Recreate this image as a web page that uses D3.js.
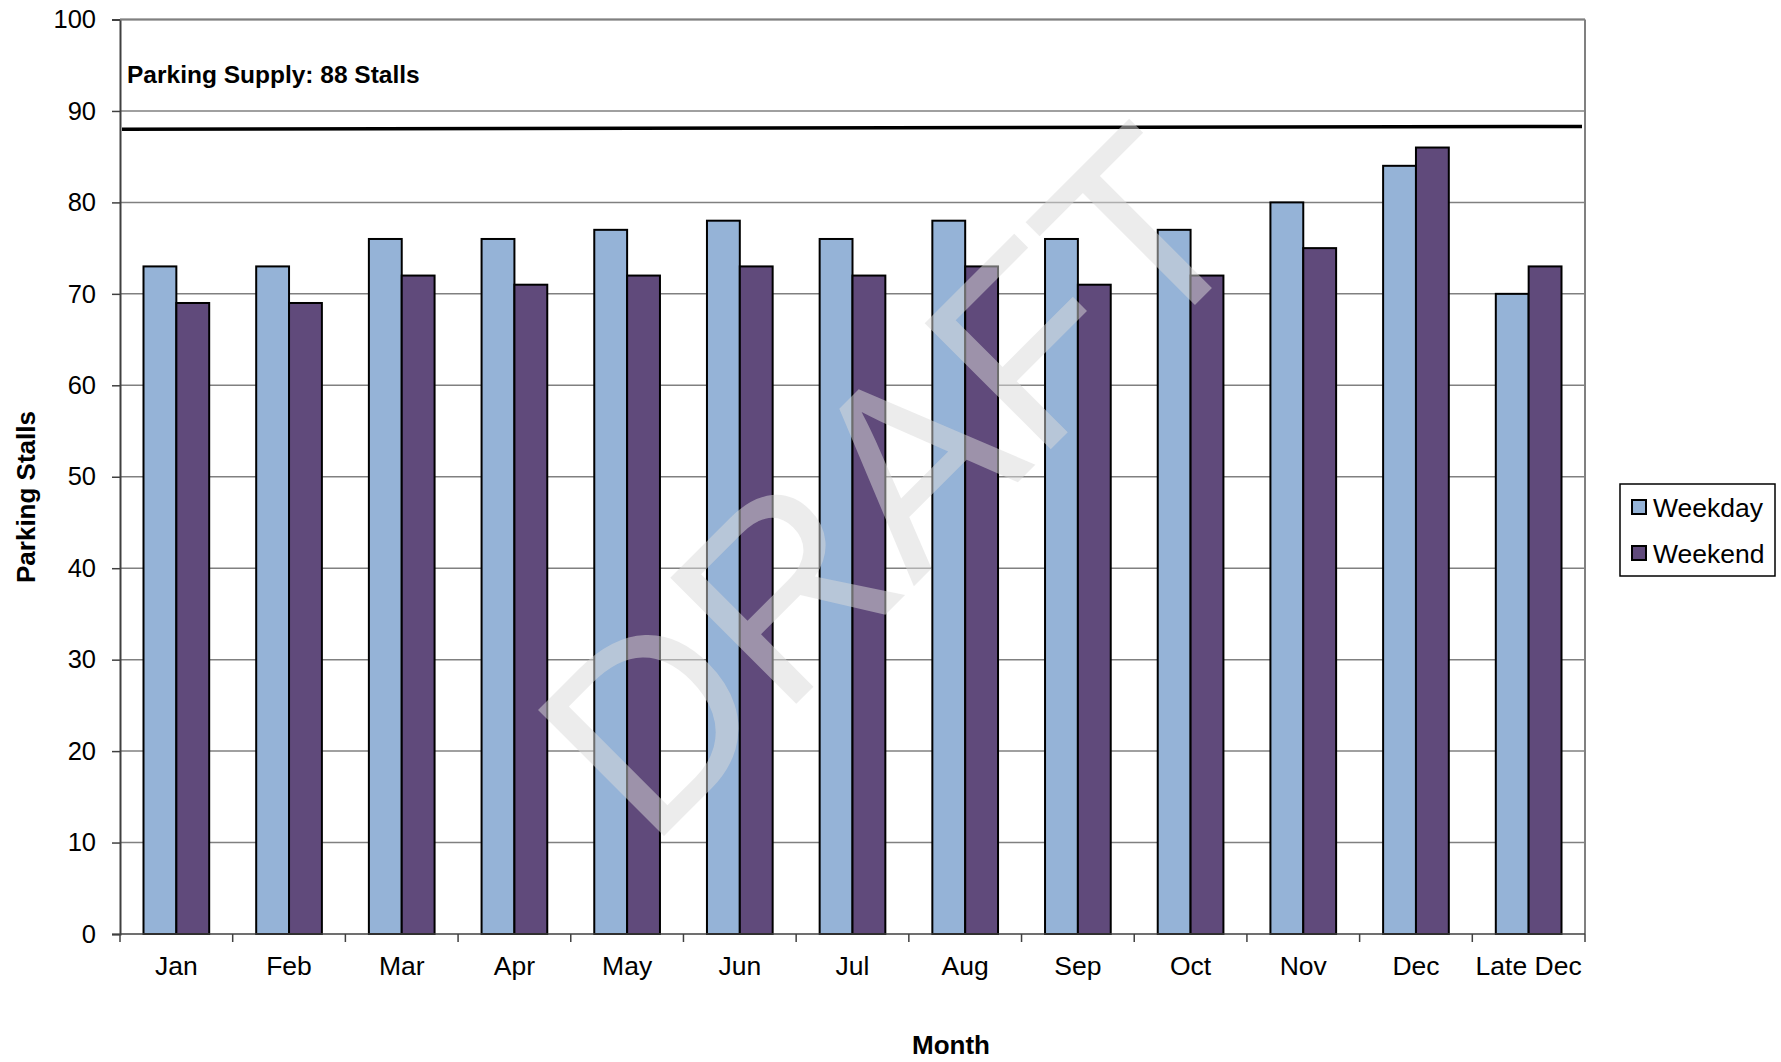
<!DOCTYPE html>
<html>
<head>
<meta charset="utf-8">
<script src="https://cdn.jsdelivr.net/npm/d3@7"></script>
<style>
  body { margin: 0; background: #fff; }
  text { font-family: "Liberation Sans", Arial, sans-serif; }
</style>
</head>
<body>
<div id="chart"></div>
<script>
var width = 1781;
var height = 1062;

// data
var months = ["Jan", "Feb", "Mar", "Apr", "May", "Jun", "Jul", "Aug", "Sep", "Oct", "Nov", "Dec", "Late Dec"];
var series = ["Weekday", "Weekend"];
var weekday = [73, 73, 76, 76, 77, 78, 76, 78, 76, 77, 80, 84, 70];
var weekend = [69, 69, 72, 71, 72, 73, 72, 73, 71, 72, 75, 86, 73];
var supply = [88, 88.3]; // drawn line, left end / right end
var yTicks = [0, 10, 20, 30, 40, 50, 60, 70, 80, 90, 100];

var colors = { "Weekday": "#95b3d7", "Weekend": "#604a7b" };

var margin = { left: 120, right: 196, top: 19.5, bottom: 128 };
var plotRight = width - margin.right;
var plotBottom = height - margin.bottom;

var svg = d3.select("#chart").append("svg")
    .attr("width", width)
    .attr("height", height);

var x0 = d3.scaleBand()
    .domain(months)
    .range([margin.left, plotRight]);

var x1 = d3.scaleBand()
    .domain(series)
    .range([23.5, x0.bandwidth() - 23.5]);

var y = d3.scaleLinear()
    .domain([0, 100])
    .range([plotBottom, margin.top]);

// gridlines
svg.append("g").selectAll("line")
    .data(yTicks.slice(1))
    .enter().append("line")
    .attr("x1", margin.left)
    .attr("x2", plotRight)
    .attr("y1", d => y(d))
    .attr("y2", d => y(d))
    .attr("stroke", "#808080")
    .attr("stroke-width", 1.5);

// right border
svg.append("line")
    .attr("x1", plotRight).attr("x2", plotRight)
    .attr("y1", margin.top).attr("y2", plotBottom)
    .attr("stroke", "#808080").attr("stroke-width", 2);

// bars
var rows = months.map((m, i) => ({ month: m, values: [
    { key: "Weekday", value: weekday[i] },
    { key: "Weekend", value: weekend[i] }
]}));

svg.append("g").selectAll("g")
    .data(rows)
    .enter().append("g")
    .attr("transform", d => "translate(" + x0(d.month) + ",0)")
    .selectAll("rect")
    .data(d => d.values)
    .enter().append("rect")
    .attr("x", d => x1(d.key))
    .attr("y", d => y(d.value))
    .attr("width", x1.bandwidth())
    .attr("height", d => y(0) - y(d.value))
    .attr("fill", d => colors[d.key])
    .attr("stroke", "#000")
    .attr("stroke-width", 2);

// y axis
var yAxis = d3.axisLeft(y)
    .tickValues(yTicks)
    .tickSize(8)
    .tickPadding(16);

var gy = svg.append("g")
    .attr("transform", "translate(" + margin.left + ",0)")
    .call(yAxis);
gy.select(".domain").attr("stroke", "#404040").attr("stroke-width", 2);
gy.selectAll(".tick line").attr("stroke", "#404040").attr("stroke-width", 1.5);
gy.selectAll(".tick text")
    .style("font-size", "25.5px")
    .attr("fill", "#000");

// x axis: ticks between categories, labels at centres
var xEdges = months.map(m => x0(m)).concat([plotRight]);
svg.append("line")
    .attr("x1", margin.left).attr("x2", plotRight)
    .attr("y1", plotBottom).attr("y2", plotBottom)
    .attr("stroke", "#404040").attr("stroke-width", 1.5);
svg.append("g").selectAll("line")
    .data(xEdges)
    .enter().append("line")
    .attr("x1", d => d).attr("x2", d => d)
    .attr("y1", plotBottom).attr("y2", plotBottom + 8)
    .attr("stroke", "#404040").attr("stroke-width", 1.5);
svg.append("g").selectAll("text")
    .data(months)
    .enter().append("text")
    .attr("x", d => x0(d) + x0.bandwidth() / 2)
    .attr("y", plotBottom + 41)
    .attr("text-anchor", "middle")
    .style("font-size", "26.5px")
    .text(d => d);

// top border
svg.append("line")
    .attr("x1", margin.left).attr("x2", plotRight)
    .attr("y1", margin.top).attr("y2", margin.top)
    .attr("stroke", "#808080").attr("stroke-width", 2);

// parking supply line
svg.append("line")
    .attr("x1", margin.left + 2)
    .attr("x2", plotRight - 3)
    .attr("y1", y(supply[0]))
    .attr("y2", y(supply[1]))
    .attr("stroke", "#000")
    .attr("stroke-width", 3.5);

svg.append("text")
    .attr("x", 127)
    .attr("y", 83)
    .style("font-size", "24.5px")
    .style("font-weight", "bold")
    .text("Parking Supply: 88 Stalls");

// axis titles
svg.append("text")
    .attr("transform", "translate(35,497) rotate(-90)")
    .attr("text-anchor", "middle")
    .style("font-size", "26px")
    .style("font-weight", "bold")
    .text("Parking Stalls");

svg.append("text")
    .attr("x", 951)
    .attr("y", 1054)
    .attr("text-anchor", "middle")
    .style("font-size", "26px")
    .style("font-weight", "bold")
    .text("Month");

// legend
var legend = svg.append("g")
    .attr("transform", "translate(1620,484)");
legend.append("rect")
    .attr("width", 155)
    .attr("height", 92)
    .attr("fill", "#fff")
    .attr("stroke", "#000")
    .attr("stroke-width", 1.5);
var li = legend.selectAll("g")
    .data(series)
    .enter().append("g")
    .attr("transform", (d, i) => "translate(12," + (23 + i * 46) + ")");
li.append("rect")
    .attr("x", 0).attr("y", -7)
    .attr("width", 14).attr("height", 14)
    .attr("fill", d => colors[d])
    .attr("stroke", "#000")
    .attr("stroke-width", 2);
li.append("text")
    .attr("x", 21)
    .attr("y", 9.5)
    .style("font-size", "26.5px")
    .text(d => d);

// DRAFT watermark
svg.append("text")
    .attr("transform", "translate(649,851) rotate(-45)")
    .style("font-size", "259px")
    .attr("fill", "#d9d9d9")
    .attr("fill-opacity", 0.5)
    .text("DRAFT");
</script>
</body>
</html>
